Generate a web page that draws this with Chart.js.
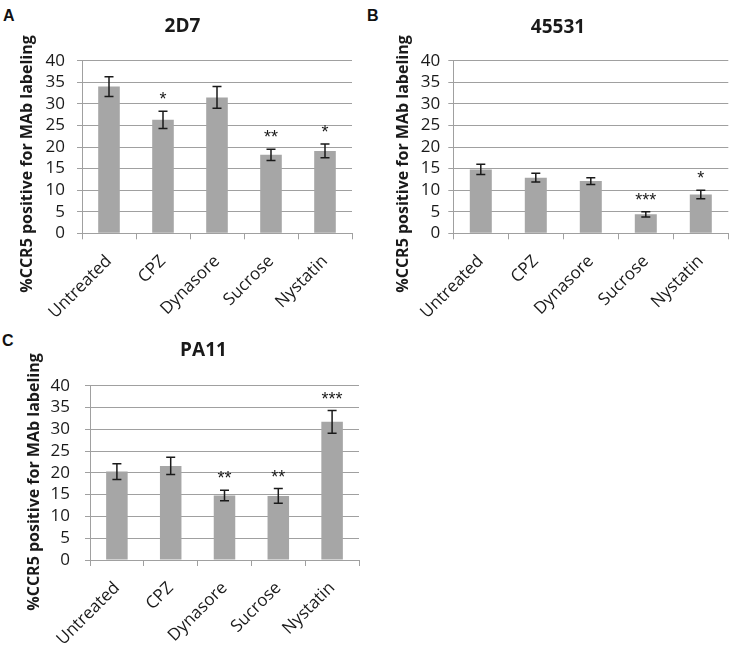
<!DOCTYPE html>
<html>
<head>
<meta charset="utf-8">
<script src="https://cdn.jsdelivr.net/npm/chart.js@4.4.1/dist/chart.umd.min.js"></script>
<style>
  body { margin:0; background:#fff; width:735px; height:645px; overflow:hidden; position:relative; font-family:"Open Sans", sans-serif; }
  .painel { position:absolute; }
  .letra { position:absolute; font:bold 16px "Liberation Sans", Arial, sans-serif; line-height:15px; color:#111; }
</style>
</head>
<body>
<div class="letra" style="left:3px;top:8px">A</div>
<div class="letra" style="left:367px;top:8px">B</div>
<div class="letra" style="left:2px;top:333px">C</div>

<div class="painel" style="left:0;top:0"><canvas id="graficoA" width="365" height="318"></canvas></div>
<div class="painel" style="left:365px;top:0"><canvas id="graficoB" width="370" height="318"></canvas></div>
<div class="painel" style="left:0;top:322px"><canvas id="graficoC" width="370" height="323"></canvas></div>

<script>
const categorias = ['Untreated', 'CPZ', 'Dynasore', 'Sucrose', 'Nystatin'];
const ticksY = [0, 5, 10, 15, 20, 25, 30, 35, 40];

// 2D7
const valores2D7 = [34.0, 26.3, 31.5, 18.2, 19.1];
const erros2D7 = [2.3, 2.0, 2.5, 1.3, 1.6];
const estrelas2D7 = ['', '*', '', '**', '*'];

// 45531
const valores45531 = [14.8, 12.9, 12.1, 4.4, 9.0];
const erros45531 = [1.2, 1.0, 0.8, 0.6, 1.0];
const estrelas45531 = ['', '', '', '***', '*'];

// PA11
const valoresPA11 = [20.3, 21.6, 14.8, 14.7, 31.7];
const errosPA11 = [1.8, 2.0, 1.2, 1.7, 2.6];
const estrelasPA11 = ['', '', '**', '**', '***'];

const tituloEixoY = '%CCR5 positive for MAb labeling';
const corBarra = '#a6a6a6';
const corGrade = '#a0a0a0';
const corTexto = '#1a1a1a';

const pluginErro = {
    id: 'barrasErro',
    afterDatasetsDraw(chart, args, opts) {
        const { ctx } = chart;
        const meta = chart.getDatasetMeta(0);
        const escalaY = chart.scales.y;
        ctx.save();
        ctx.strokeStyle = corTexto;
        ctx.fillStyle = corTexto;
        ctx.lineWidth = 1.5;
        meta.data.forEach((barra, i) => {
            const v = opts.valores[i];
            const e = opts.erros[i];
            const yTopo = escalaY.getPixelForValue(v + e);
            const yBase = escalaY.getPixelForValue(v - e);
            const x = barra.x;
            ctx.beginPath();
            ctx.moveTo(x, yTopo); ctx.lineTo(x, yBase);
            ctx.moveTo(x - 4.5, yTopo); ctx.lineTo(x + 4.5, yTopo);
            ctx.moveTo(x - 4.5, yBase); ctx.lineTo(x + 4.5, yBase);
            ctx.stroke();
            if (opts.estrelas[i]) {
                ctx.font = '18px "Liberation Sans", Arial, sans-serif';
                ctx.textAlign = 'center';
                ctx.textBaseline = 'alphabetic';
                ctx.fillText(opts.estrelas[i], x, yTopo - 6);
            }
        });
        // titulo do eixo Y, centrado como no Excel (abaixo do centro da area)
        ctx.font = 'bold 16px "Open Sans", sans-serif';
        ctx.textAlign = 'center';
        ctx.textBaseline = 'middle';
        ctx.translate(opts.eixoX, opts.eixoY);
        ctx.rotate(-Math.PI / 2);
        ctx.fillText(tituloEixoY, 0, 0);
        ctx.restore();
    }
};

function criarGrafico(id, titulo, valores, erros, estrelas, cfg) {
    return new Chart(document.getElementById(id), {
        type: 'bar',
        data: {
            labels: categorias,
            datasets: [{
                data: valores,
                backgroundColor: corBarra,
                borderWidth: 0,
                barPercentage: 0.4,
                categoryPercentage: 1.0
            }]
        },
        options: {
            responsive: false,
            animation: false,
            layout: { padding: { left: cfg.padL, right: cfg.padR, top: 0, bottom: 0 } },
            plugins: {
                legend: { display: false },
                tooltip: { enabled: false },
                title: {
                    display: true,
                    text: titulo,
                    color: corTexto,
                    font: { family: '"Open Sans", sans-serif', size: 19, weight: 'bold' },
                    padding: { top: cfg.tituloTopo, bottom: cfg.tituloBase }
                },
                barrasErro: {
                    valores: valores,
                    erros: erros,
                    estrelas: estrelas,
                    eixoX: cfg.eixoX,
                    eixoY: cfg.eixoY
                }
            },
            scales: {
                x: {
                    grid: { display: true, drawOnChartArea: false, drawTicks: true, tickLength: 6, color: corGrade, offset: true },
                    border: { display: true, color: corGrade },
                    ticks: {
                        color: corTexto,
                        font: { family: '"Open Sans", sans-serif', size: 17 },
                        maxRotation: 45,
                        minRotation: 45,
                        autoSkip: false,
                        padding: 12
                    },
                    afterFit: (s) => { s.height = cfg.alturaX; }
                },
                y: {
                    min: 0,
                    max: 40,
                    afterBuildTicks: (s) => { s.ticks = ticksY.map(v => ({ value: v })); },
                    grid: { color: corGrade, lineWidth: 1, tickLength: 5 },
                    border: { display: true, color: corGrade },
                    ticks: {
                        color: corTexto,
                        font: { family: '"Open Sans", sans-serif', size: 17 },
                        autoSkip: false,
                        padding: cfg.tickPad
                    },
                    afterFit: (s) => { s.width = cfg.larguraY; }
                }
            }
        },
        plugins: [pluginErro]
    });
}

criarGrafico('graficoA', '2D7', valores2D7, erros2D7, estrelas2D7,
    { padL: 13, padR: 13, larguraY: 69, alturaX: 84.7, tituloTopo: 15.6, tituloBase: 22.3, tickPad: 12, eixoX: 27, eixoY: 164 });
criarGrafico('graficoB', '45531', valores45531, erros45531, estrelas45531,
    { padL: 22.7, padR: 6.7, larguraY: 65.6, alturaX: 84.7, tituloTopo: 16.1, tituloBase: 21.8, tickPad: 8, eixoX: 38, eixoY: 164 });
criarGrafico('graficoC', 'PA11', valoresPA11, errosPA11, estrelasPA11,
    { padL: 48, padR: 11, larguraY: 42, alturaX: 85, tituloTopo: 17.6, tituloBase: 23.3, tickPad: 15, eixoX: 34, eixoY: 160 });
</script>
</body>
</html>
